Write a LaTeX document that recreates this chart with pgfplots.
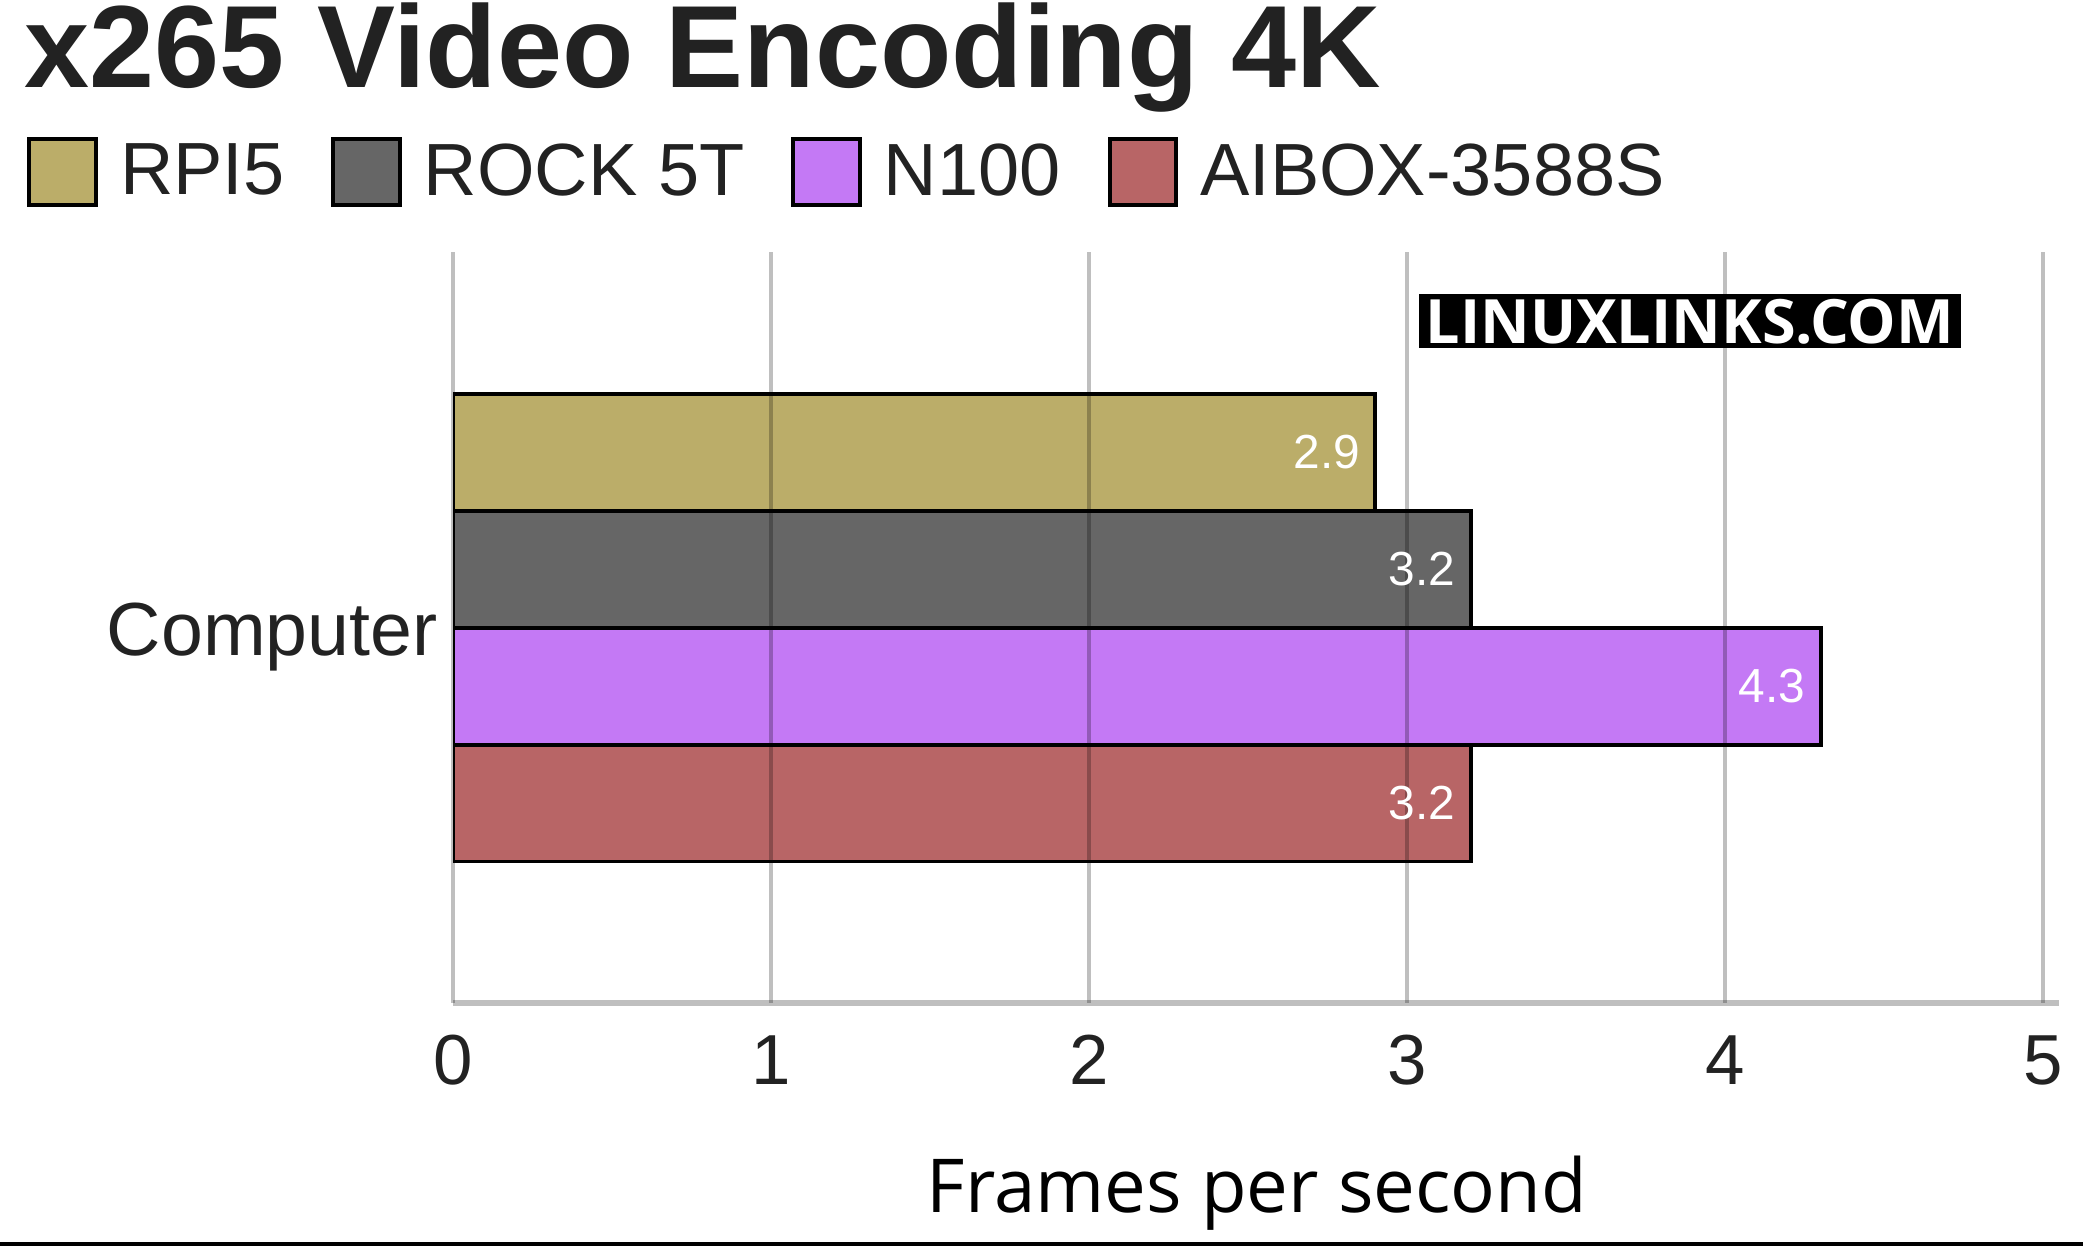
\documentclass[border=0pt]{standalone}
\usepackage{pgfplots}
\pgfplotsset{compat=1.18}
\usepackage{fontspec}
\setmainfont{Liberation Sans}
\newfontfamily\opensans{Open Sans}
\definecolor{txt}{HTML}{222222}
\definecolor{cRPI}{HTML}{BBAD69}
\definecolor{cROCK}{HTML}{666666}
\definecolor{cN}{HTML}{C479F5}
\definecolor{cAI}{HTML}{B86566}
\begin{document}
\begin{tikzpicture}[x=1pt,y=1pt]
\useasboundingbox (0,0) rectangle (470.4,281.4);
% title
\node[anchor=base west, inner sep=0, text=txt,
      font=\fontsize{26.4}{30}\selectfont\bfseries] at (5.4,261.6) {x265 Video Encoding 4K};
\begin{axis}[
    at={(102.3pt,54.9pt)}, anchor=south west,
    scale only axis, width=359.1pt, height=169.5pt,
    /pgf/number format/assume math mode=true,
    xbar, bar width=26.4pt,
    xmin=0, xmax=5, ymin=-1, ymax=1,
    xtick={0,1,2,3,4,5},
    ytick={0}, yticklabels={Computer},
    major tick length=0pt,
    axis on top,
    separate axis lines,
    axis x line*=bottom, axis y line*=left,
    x axis line style={-, draw=black, draw opacity=0.25, line width=1.2pt, shorten >=-3.6pt},
    y axis line style={draw=none},
    xmajorgrids, major grid style={black, opacity=0.25, line width=0.75pt},
    tick label style={text=txt},
    xticklabel style={font=\fontsize{16}{19}\selectfont, yshift=-3.8pt},
    yticklabel style={font=\fontsize{17}{19}\selectfont, yshift=-2pt},
    xlabel={Frames per second},
    xlabel style={at={(axis description cs:0.5,0)}, anchor=base, xshift=2pt, yshift=-47.4pt,
                  font=\opensans\fontsize{16.8}{20}\selectfont},
    point meta=x,
    nodes near coords,
    nodes near coords style={anchor=east, text=white, inner sep=3pt,
                             font=\fontsize{10.8}{13}\selectfont},
    legend columns=-1,
    legend image code/.code={\draw[#1, draw=black, line width=0.9pt] (0pt,-7.3pt) rectangle (15pt,7.7pt);},
    legend style={at={(axis description cs:-0.2765,1.106)}, anchor=west, draw=none, fill=none,
                  font=\fontsize{16.7}{19}\selectfont, text=txt,
                  /tikz/every odd column/.append style={column sep=3pt},
                  /tikz/every even column/.append style={column sep=8.6pt}},
]
\addplot[fill=cRPI, draw=black, line width=0.9pt, bar shift=39.6pt] coordinates {(2.9,0)};
\addplot[fill=cROCK, draw=black, line width=0.9pt, bar shift=13.2pt] coordinates {(3.2,0)};
\addplot[fill=cN, draw=black, line width=0.9pt, bar shift=-13.2pt] coordinates {(4.3,0)};
\addplot[fill=cAI, draw=black, line width=0.9pt, bar shift=-39.6pt] coordinates {(3.2,0)};
\legend{RPI5, ROCK 5T, N100, AIBOX-3588S}
\end{axis}
% watermark
\node[fill=black, text=white, inner xsep=1.5pt, inner ysep=1pt,
      font=\opensans\bfseries\fontsize{13.8}{16}\selectfont] at (381.6,208.8) {LINUXLINKS.COM};
% bottom rule
\draw[line width=0.9pt] (0,0.45) -- (470.4,0.45);
\end{tikzpicture}
\end{document}
